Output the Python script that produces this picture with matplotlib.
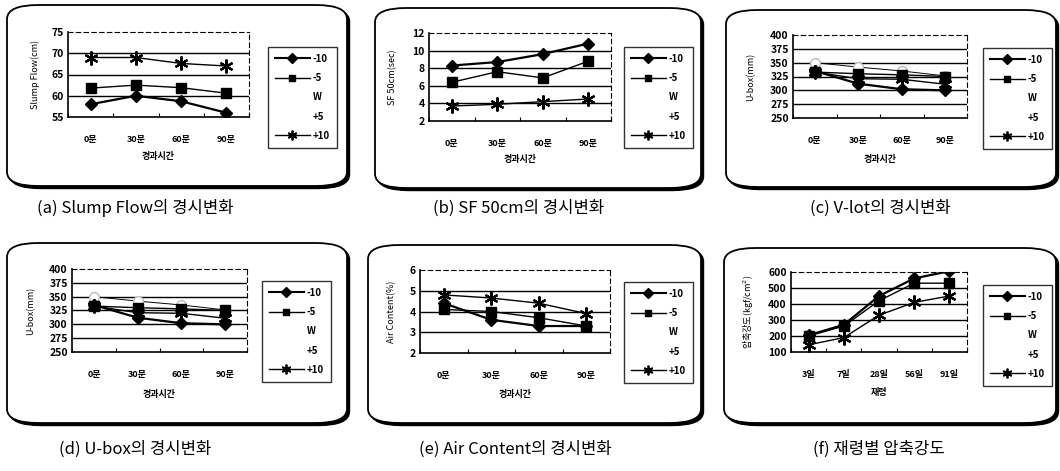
import matplotlib
matplotlib.use("Agg")
import matplotlib.pyplot as plt
from matplotlib.patches import FancyBboxPatch
from matplotlib.lines import Line2D

plt.rcParams['font.family'] = ['Noto Sans CJK KR', 'DejaVu Sans']

W_PX, H_PX = 1060, 471

# ---------------- data ----------------
time_cats = ["0분", "30분", "60분", "90분"]
age_cats = ["3일", "7일", "28일", "56일", "91일"]
legend_labels = ["-10", "-5", "W", "+5", "+10"]

slump_m10 = [58, 60, 58.7, 56]
slump_m5 = [61.8, 62.5, 61.9, 60.6]
slump_p10 = [69, 69, 67.6, 67]

sf_m10 = [8.3, 8.7, 9.6, 10.8]
sf_m5 = [6.4, 7.6, 6.9, 8.8]
sf_p10 = [3.7, 3.9, 4.2, 4.5]

ubox_m10 = [335, 312, 302, 300]
ubox_m5 = [333, 330, 328, 325]
ubox_w = [350, 342, 335, 326]
ubox_p10 = [333, 321, 320, 311]

air_m10 = [4.4, 3.6, 3.3, 3.3]
air_m5 = [4.1, 4.0, 3.7, 3.3]
air_p10 = [4.8, 4.65, 4.4, 3.9]

str_m10 = [205, 270, 450, 560, 605]
str_m5 = [200, 262, 420, 530, 530]
str_p10 = [145, 190, 330, 410, 450]

captions = ["(a) Slump Flow의 경시변화", "(b) SF 50cm의 경시변화", "(c) V-lot의 경시변화",
            "(d) U-box의 경시변화", "(e) Air Content의 경시변화", "(f) 재령별 압축강도"]

# ---------------- layout helpers ----------------
fig = plt.figure(figsize=(W_PX / 100, H_PX / 100), dpi=100)


def fx(x):
    return x / W_PX


def fy(y):
    return 1 - y / H_PX


def rbox(l, t, r, b):
    rad = 14
    sh = FancyBboxPatch((fx(l + 2.5), fy(b + 2.5)), fx(r - l), (b - t) / H_PX,
                        boxstyle=f"round,pad=0,rounding_size={rad / H_PX}",
                        transform=fig.transFigure, facecolor='black', edgecolor='black',
                        lw=1.0, zorder=-2)
    fig.patches.append(sh)
    p = FancyBboxPatch((fx(l), fy(b)), fx(r - l), (b - t) / H_PX,
                       boxstyle=f"round,pad=0,rounding_size={rad / H_PX}",
                       transform=fig.transFigure, facecolor='white', edgecolor='black',
                       lw=1.3, zorder=-1)
    fig.patches.append(p)


def make_ax(l, t, r, b):
    ax = fig.add_axes([fx(l), fy(b), fx(r - l), (b - t) / H_PX])
    ax.set_zorder(5)
    return ax


def style_ax(ax, cats, yticks, ylabel, xlabel, ylab_x, xlab_y, lpos):
    n = len(cats)
    ax.set_xlim(-0.5, n - 0.5)
    ax.set_ylim(yticks[0], yticks[-1])
    ax.set_xticks(range(n))
    ax.set_xticklabels(cats, fontsize=6.5, fontweight='bold')
    ax.set_xticks([i + 0.5 for i in range(-1, n)], minor=True)
    ax.tick_params(axis='x', which='major', length=0, pad=13)
    ax.tick_params(axis='x', which='minor', length=3, direction='in', width=0.8)
    ax.set_yticks(yticks)
    ax.set_yticklabels([str(v) for v in yticks], fontsize=7.5, fontweight='bold')
    ax.tick_params(axis='y', length=0, pad=3)
    for v in yticks[1:-1]:
        ax.axhline(v, color='black', lw=1.0, zorder=1)
    for s in ['left', 'bottom']:
        ax.spines[s].set_linewidth(1.2)
    for s in ['top', 'right']:
        ax.spines[s].set_linewidth(0.8)
        ax.spines[s].set_linestyle((0, (4, 3)))
    bb = ax.get_position()
    fig.text(fx(ylab_x), (bb.y0 + bb.y1) / 2, ylabel, rotation=90, ha='center',
             va='center', fontsize=6.5, zorder=6)
    fig.text((bb.x0 + bb.x1) / 2, fy(xlab_y), xlabel, ha='center', va='center',
             fontsize=6.5, fontweight='bold', zorder=6)
    # legend
    handles = [
        Line2D([], [], color='black', lw=1.5, marker='D', ms=5),
        Line2D([], [], color='black', lw=1.0, marker='s', ms=5),
        Line2D([], [], color='none'),
        Line2D([], [], color='none'),
        Line2D([], [], color='black', lw=1.0, marker=(6, 2, 0), ms=7, mew=1.3),
    ]
    ll, lt, lr, lb = lpos
    leg = ax.legend(handles, legend_labels, loc='upper left',
                    bbox_to_anchor=(fx(ll), fy(lt)), bbox_transform=fig.transFigure,
                    fontsize=7, frameon=True, fancybox=False, handlelength=3.6,
                    handletextpad=0.3, labelspacing=0.95, borderpad=0.7,
                    borderaxespad=0, markerfirst=True)
    fr = leg.get_frame()
    fr.set_edgecolor('black')
    fr.set_linewidth(1.0)
    for t in leg.get_texts():
        t.set_fontweight('bold')


def plot_series(ax, m10, m5, p10):
    n = len(m10)
    ax.plot(range(n), m5, color='black', lw=1.0, marker='s', ms=7, zorder=3)
    ax.plot(range(n), m10, color='black', lw=1.6, marker='D', ms=6.5, zorder=4)
    ax.plot(range(n), p10, color='black', lw=1.0, marker=(6, 2, 0), ms=10, mew=1.6,
            zorder=3)


# ---------------- panel (a) ----------------
rbox(7, 5, 347, 186)
ax = make_ax(68, 32, 249, 117)
plot_series(ax, slump_m10, slump_m5, slump_p10)
style_ax(ax, time_cats, [55, 60, 65, 70, 75], "Slump Flow(cm)", "경과시간", 35, 157,
         (268, 47, 334, 142))

# ---------------- panel (b) ----------------
rbox(375, 8, 701, 188)
ax = make_ax(429, 33, 611, 121)
plot_series(ax, sf_m10, sf_m5, sf_p10)
style_ax(ax, time_cats, [2, 4, 6, 8, 10, 12], "SF 50cm(sec)", "경과시간", 393, 160,
         (624, 47, 693, 145))

# ---------------- panel (c) & (d) ----------------
for (box, axr, ylx, xly, lg) in [
        ((726, 10, 1056, 187), (793, 35, 967, 118), 751, 160, (983, 48, 1053, 147)),
        ((7, 243, 347, 423), (72, 269, 247, 352), 31, 394, (262, 281, 333, 380))]:
    rbox(*box)
    ax = make_ax(*axr)
    ax.plot(range(4), ubox_w, color='black', lw=0.7, marker='o', ms=7, mfc='white',
            mec='#bbbbbb', zorder=2)
    plot_series(ax, ubox_m10, ubox_m5, ubox_p10)
    style_ax(ax, time_cats, [250, 275, 300, 325, 350, 375, 400], "U-box(mm)", "경과시간",
             ylx, xly, lg)

# ---------------- panel (e) ----------------
rbox(368, 245, 701, 423)
ax = make_ax(420, 270, 610, 353)
plot_series(ax, air_m10, air_m5, air_p10)
style_ax(ax, time_cats, [2, 3, 4, 5, 6], "Air Content(%)", "경과시간", 392, 394,
         (624, 282, 693, 382))

# ---------------- panel (f) ----------------
rbox(724, 248, 1056, 423)
ax = make_ax(791, 272, 967, 352)
plot_series(ax, str_m10, str_m5, str_p10)
style_ax(ax, age_cats, [100, 200, 300, 400, 500, 600], "압축강도(kgf/cm$^2$)", "재령",
         749, 393, (983, 285, 1056, 382))
ax.set_ylim(100, 600)

# ---------------- captions ----------------
cap_pos = [(135, 208), (519, 208), (880, 208), (135, 449), (515, 449), (879, 449)]
for txt, (cx, cy) in zip(captions, cap_pos):
    fig.text(fx(cx), fy(cy), txt, ha='center', va='center', fontsize=12)

fig.savefig("out.png", dpi=100)
